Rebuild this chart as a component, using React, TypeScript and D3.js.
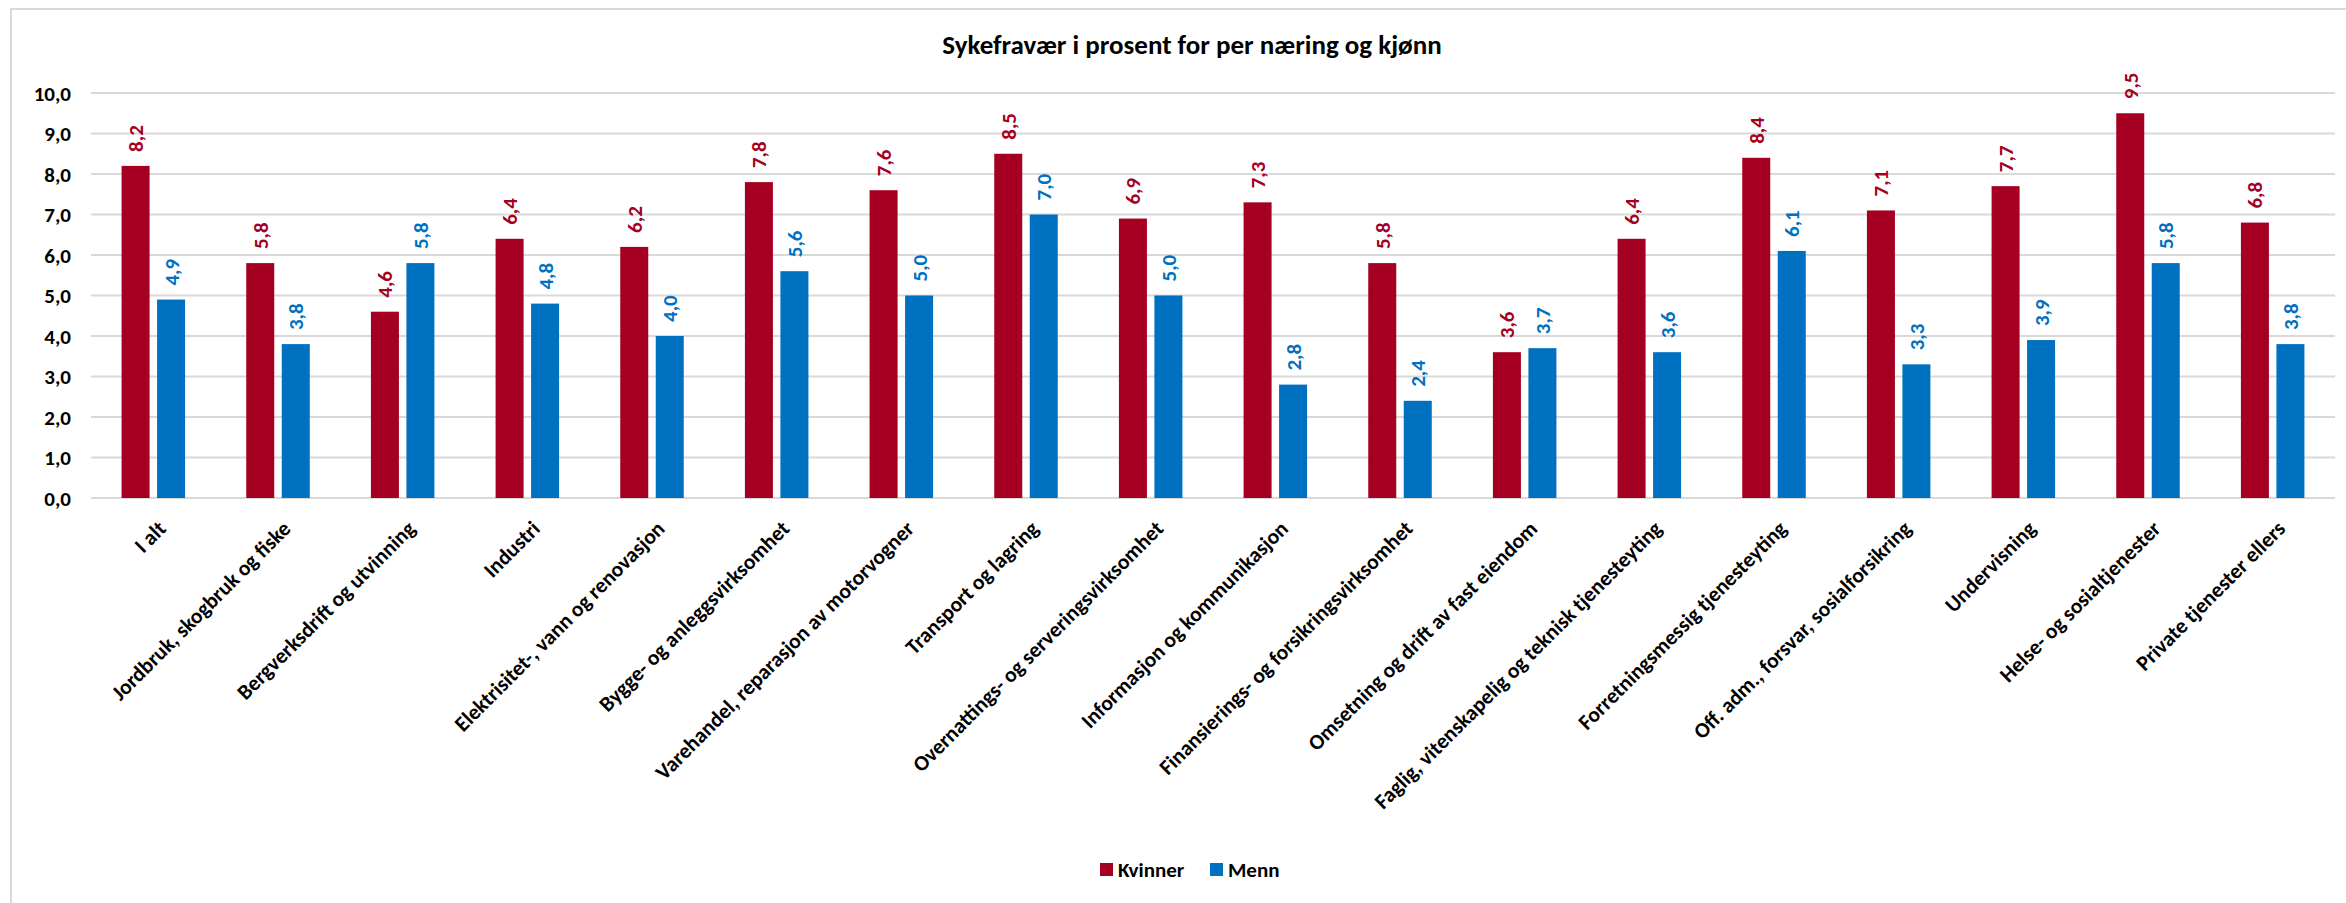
import React from "react";
import * as d3 from "d3";

const categories: string[] = [
  "I alt",
  "Jordbruk, skogbruk og fiske",
  "Bergverksdrift og utvinning",
  "Industri",
  "Elektrisitet-, vann og renovasjon",
  "Bygge- og anleggsvirksomhet",
  "Varehandel, reparasjon av motorvogner",
  "Transport og lagring",
  "Overnattings- og serveringsvirksomhet",
  "Informasjon og kommunikasjon",
  "Finansierings- og forsikringsvirksomhet",
  "Omsetning og drift av fast eiendom",
  "Faglig, vitenskapelig og teknisk tjenesteyting",
  "Forretningsmessig tjenesteyting",
  "Off. adm., forsvar, sosialforsikring",
  "Undervisning",
  "Helse- og sosialtjenester",
  "Private tjenester ellers",
];

const kvinner: number[] = [8.2, 5.8, 4.6, 6.4, 6.2, 7.8, 7.6, 8.5, 6.9, 7.3, 5.8, 3.6, 6.4, 8.4, 7.1, 7.7, 9.5, 6.8];
const menn: number[] = [4.9, 3.8, 5.8, 4.8, 4.0, 5.6, 5.0, 7.0, 5.0, 2.8, 2.4, 3.7, 3.6, 6.1, 3.3, 3.9, 5.8, 3.8];

const seriesNames: string[] = ["Kvinner", "Menn"];
const seriesColors: string[] = ["#A50021", "#0070C0"];
const yTicks: number[] = [0, 1, 2, 3, 4, 5, 6, 7, 8, 9, 10];
const title = "Sykefravær i prosent for per næring og kjønn";

const W = 2346;
const H = 903;
const FONT = "Carlito, Calibri, Lato, sans-serif";

export default function App() {
  const left = 91;
  const right = 2335;
  const top = 93;
  const bottom = 498;

  const x0 = d3.scaleBand<string>().domain(categories).range([left, right]).paddingInner(0.4906).paddingOuter(0.2453);
  const x1 = d3.scaleBand<string>().domain(seriesNames).range([0, x0.bandwidth()]).paddingInner(0.211);
  const y = d3.scaleLinear().domain([0, 10]).range([bottom, top]);
  const fmt = (v: number) => d3.format(".1f")(v).replace(".", ",");
  const series = [kvinner, menn];

  return (
    <svg width={W} height={H} style={{ position: "absolute", left: 0, top: 0, background: "#fff" }}>
      <rect x={0} y={0} width={W} height={H} fill="#fff" />
      <path d={`M11,${H + 5} V9 H${W + 5}`} fill="none" stroke="#d9d9d9" strokeWidth={2} />
      <text x={1192} y={54} textAnchor="middle" fontFamily={FONT} fontWeight="bold" fontSize={27} fill="#000">
        {title}
      </text>
      {yTicks.map((t) => (
        <g key={t}>
          <line x1={left} x2={right} y1={y(t)} y2={y(t)} stroke="#d9d9d9" strokeWidth={2} />
          <text x={71} y={y(t)} dy="0.36em" textAnchor="end" fontFamily={FONT} fontWeight="bold" fontSize={21} fill="#000">
            {fmt(t)}
          </text>
        </g>
      ))}
      {categories.map((c, i) => (
        <g key={c}>
          {series.map((s, j) => {
            const bx = (x0(c) as number) + (x1(seriesNames[j]) as number);
            const bw = x1.bandwidth();
            const by = y(s[i]);
            const cx = bx + bw / 2;
            const ly = by - 14;
            return (
              <g key={j}>
                <rect x={bx} y={by} width={bw} height={y(0) - by} fill={seriesColors[j]} />
                <text
                  transform={`translate(${cx},${ly}) rotate(-90)`}
                  dy="0.36em"
                  textAnchor="start"
                  fontFamily={FONT}
                  fontWeight="bold"
                  fontSize={21}
                  fill={seriesColors[j]}
                >
                  {fmt(s[i])}
                </text>
              </g>
            );
          })}
          <text
            transform={`translate(${(x0(c) as number) + x0.bandwidth() / 2 + 14},${bottom + 32}) rotate(-45)`}
            textAnchor="end"
            fontFamily={FONT}
            fontWeight="bold"
            fontSize={21.5}
            fill="#000"
          >
            {c}
          </text>
        </g>
      ))}
      {seriesNames.map((n, j) => {
        const lx = [1100, 1210][j];
        return (
          <g key={n}>
            <rect x={lx} y={863} width={13} height={13} fill={seriesColors[j]} />
            <text x={lx + 18} y={876.5} fontFamily={FONT} fontWeight="bold" fontSize={21} fill="#000">
              {n}
            </text>
          </g>
        );
      })}
    </svg>
  );
}
